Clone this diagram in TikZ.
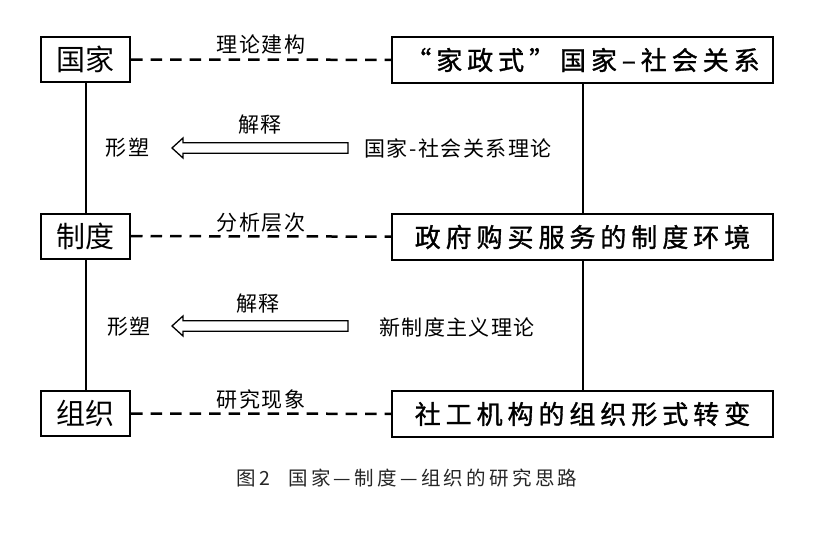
\documentclass[tikz,border=0pt]{standalone}
\usepackage{fontspec}
\newfontfamily\cjk{Noto Sans CJK SC}
\newfontfamily\cjkbox[LetterSpace=19, FakeBold=1.2]{Noto Sans CJK SC}
\newfontfamily\cjklab[LetterSpace=7]{Noto Sans CJK SC}
\newfontfamily\cjkcap[LetterSpace=17]{Noto Sans CJK SC}
\usetikzlibrary{calc}
\newcommand\hollowarr[2]{%
  \draw[hollowline] (#1) -- ($(#1)+(11,-10)$) -- ($(#1)+(11,-5.3)$) -- ($(#2)+(0,-5.3)$)
    -- ($(#2)+(0,5.3)$) -- ($(#1)+(11,5.3)$) -- ($(#1)+(11,10)$) -- cycle;}
\tikzset{
  leftbox/.style={draw, line width=2pt, minimum width=89pt, minimum height=45pt, inner sep=0pt,
    font=\cjk\fontsize{29}{29}\selectfont},
  rightbox/.style={draw, line width=2pt, minimum width=381pt, minimum height=46pt, inner sep=0pt,
    font=\cjkbox\fontsize{26}{26}\selectfont},
  lab/.style={inner sep=0pt, font=\cjklab\fontsize{21}{21}\selectfont},
  solidline/.style={line width=2pt},
  dashline/.style={line width=2.5pt, dash pattern=on 11.5pt off 8pt},
  hollowline/.style={line width=1.3pt, fill=white, line join=miter},
  captext/.style={inner sep=0pt, text=black!85, font=\cjkcap\fontsize{19.5}{19.5}\selectfont}
}
\begin{document}
\begin{tikzpicture}[x=1pt,y=-1pt]
\path[use as bounding box, fill=white] (0,0) rectangle (820,533);

% left boxes
\node[leftbox] (guo) at (85.5,59.5) {国家};
\node[leftbox] (zhi) at (85.5,236) {制度};
\node[leftbox] (zu)  at (85.5,413.5) {组织};

% right boxes
\node[rightbox] (r1) at (582.5,60) {“家政式”国家–社会关系};
\node[rightbox] (r2) at (582.5,237) {政府购买服务的制度环境};
\node[rightbox] (r3) at (582.5,414) {社工机构的组织形式转变};

% vertical lines
\draw[solidline] (guo) -- (zhi);
\draw[solidline] (zhi) -- (zu);
\draw[solidline] (r1) -- (r2);
\draw[solidline] (r2) -- (r3);

% dashed lines with labels
\draw[dashline] (guo) -- (r1) node[lab, midway, yshift=15pt] (l1) {理论建构};
\draw[dashline] (zhi) -- (r2) node[lab, midway, yshift=14pt] (l2) {分析层次};
\draw[dashline] (zu) -- (r3) node[lab, midway, yshift=14pt] (l3) {研究现象};

% first hollow arrow
\node[lab] (xs1) at (127.5,148) {形塑};
\node[lab] (th1) at (458,148) {国家-社会关系理论};
\node[lab] (js1) at (260,125) {解释};
\coordinate (a1tip) at (172,148);
\coordinate (a1tail) at (348,148);
\hollowarr{a1tip}{a1tail}

% second hollow arrow
\node[lab] (xs2) at (129,327) {形塑};
\node[lab] (th2) at (457,327) {新制度主义理论};
\node[lab] (js2) at (258,304) {解释};
\coordinate (a2tip) at (172,326);
\coordinate (a2tail) at (348,326);
\hollowarr{a2tip}{a2tail}

% caption
\node[captext] (caption) at (407,478) {图2\hspace{18pt}国家—制度—组织的研究思路};
\end{tikzpicture}
\end{document}
